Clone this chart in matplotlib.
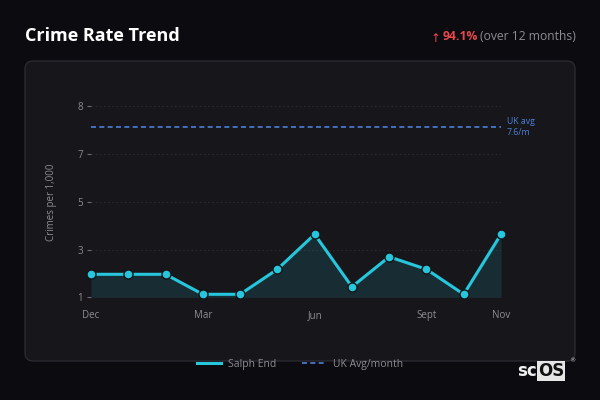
import matplotlib
matplotlib.use("Agg")
import matplotlib.pyplot as plt
from matplotlib.patches import FancyBboxPatch
from matplotlib.lines import Line2D
from matplotlib.ticker import FormatStrFormatter
import numpy as np

plt.rcParams['font.family'] = ['Open Sans', 'DejaVu Sans']

months = ["Dec", "Jan", "Feb", "Mar", "Apr", "May", "Jun", "Jul", "Aug", "Sept", "Oct", "Nov"]
shown_months = ["Dec", "Mar", "Jun", "Sept", "Nov"]
rates = [1.7, 1.7, 1.7, 0.9, 0.9, 1.9, 3.3, 1.2, 2.4, 1.9, 0.9, 3.3]
uk_avg = 7.6
y_ticks = [0.78, 2.69, 4.60, 6.51, 8.42]

bg = "#0c0b10"
card = "#17171b"
cyan = "#26c6dc"
blue = "#4a80d6"
grey = "#8c8c92"

fig = plt.figure(figsize=(6, 4), dpi=100, facecolor=bg)

# card panel
panel = FancyBboxPatch((0.25, 0.39), 5.5, 3.0, boxstyle="round,pad=0,rounding_size=0.08",
                       transform=fig.dpi_scale_trans, facecolor=card, edgecolor="#303036",
                       linewidth=0.8, zorder=-1)
fig.patches.append(panel)

fig.text(25 / 600, 1 - 36 / 400, "Crime Rate Trend", color="white", fontsize=13,
         fontweight="bold", va="center", ha="left")

# change over the period
change = (rates[-1] - rates[0]) / rates[0] * 100
fig.canvas.draw()
r = fig.canvas.get_renderer()
t3 = fig.text(576 / 600, 1 - 37 / 400, "(over 12 months)", color=grey, fontsize=8.7,
              ha="right", va="center")
x_left = t3.get_window_extent(r).x0 - 2
t2 = fig.text(x_left / 600, 1 - 37 / 400, f"{change:.1f}%", color="#e5484d", fontsize=8.7,
              fontweight="bold", ha="right", va="center")
x_left = t2.get_window_extent(r).x0 - 2
fig.text(x_left / 600, 1 - 38 / 400, "\u2191", color="#e5484d", fontsize=8.5,
         ha="right", va="center", family=["DejaVu Sans"])

ax = fig.add_axes([91 / 600, 1 - 297.3 / 400, 410 / 600, 191 / 400])
ax.set_facecolor("none")
x = np.arange(len(months))

ax.fill_between(x, rates, y_ticks[0], color=cyan, alpha=0.13, linewidth=0, zorder=1)
ax.plot(x, rates, color=cyan, linewidth=2.2, marker="o", markersize=6.5,
        markerfacecolor=cyan, markeredgecolor="#111418", markeredgewidth=1.0, zorder=3,
        clip_on=False)
ax.plot(x, [uk_avg] * len(x), color=blue, linewidth=1.2, dashes=(3, 2), zorder=2)
ax.annotate(f"UK avg\n{uk_avg}/m", xy=(x[-1], uk_avg), xytext=(4, 0),
            textcoords="offset points", color=blue, fontsize=6.3, va="center", ha="left",
            linespacing=1.3, annotation_clip=False)

ax.set_xlim(x[0], x[-1])
ax.set_ylim(y_ticks[0], y_ticks[-1])
ax.set_yticks(y_ticks)
ax.yaxis.set_major_formatter(FormatStrFormatter("%.0f"))
ax.set_xticks([months.index(m) for m in shown_months])
ax.set_xticklabels(shown_months)

for s in ax.spines.values():
    s.set_visible(False)
ax.grid(axis="y", color="#2c2c31", linewidth=0.6, dashes=(2, 3))
ax.set_axisbelow(True)
ax.tick_params(axis="y", colors="#6a6a70", labelcolor=grey, labelsize=7, length=3, width=0.8, pad=3)
ax.tick_params(axis="x", length=0, labelcolor=grey, labelsize=7, pad=9)

ax.set_ylabel("Crimes per 1,000", color=grey, fontsize=7)
ax.yaxis.set_label_coords(-0.083, 0.5)

handles = [Line2D([], [], color=cyan, linewidth=2.2),
           Line2D([], [], color=blue, linewidth=1.2, dashes=(3, 2))]
fig.legend(handles, ["Salph End", "UK Avg/month"], loc="center",
           bbox_to_anchor=(300 / 600, 1 - 364 / 400), ncol=2, frameon=False,
           fontsize=7.5, labelcolor=grey, handlelength=2.3, handletextpad=0.7,
           columnspacing=2.4)

# watermark
fig.text(537 / 600, 1 - 371 / 400, "sc", color="#f0f0f0", fontsize=12, fontweight="bold",
         ha="right", va="center", family=["DejaVu Sans"])
fig.text(538 / 600, 1 - 371 / 400, "OS", color="#111111", fontsize=12, fontweight="bold",
         ha="left", va="center", family=["DejaVu Sans"],
         bbox=dict(facecolor="#e6e6e6", edgecolor="none", pad=0.5))
fig.text(569 / 600, 1 - 361 / 400, "\u00ae", color="#cccccc", fontsize=4.5, ha="left",
         va="center", family=["DejaVu Sans"])

fig.savefig("out.png", dpi=100, facecolor=bg)
